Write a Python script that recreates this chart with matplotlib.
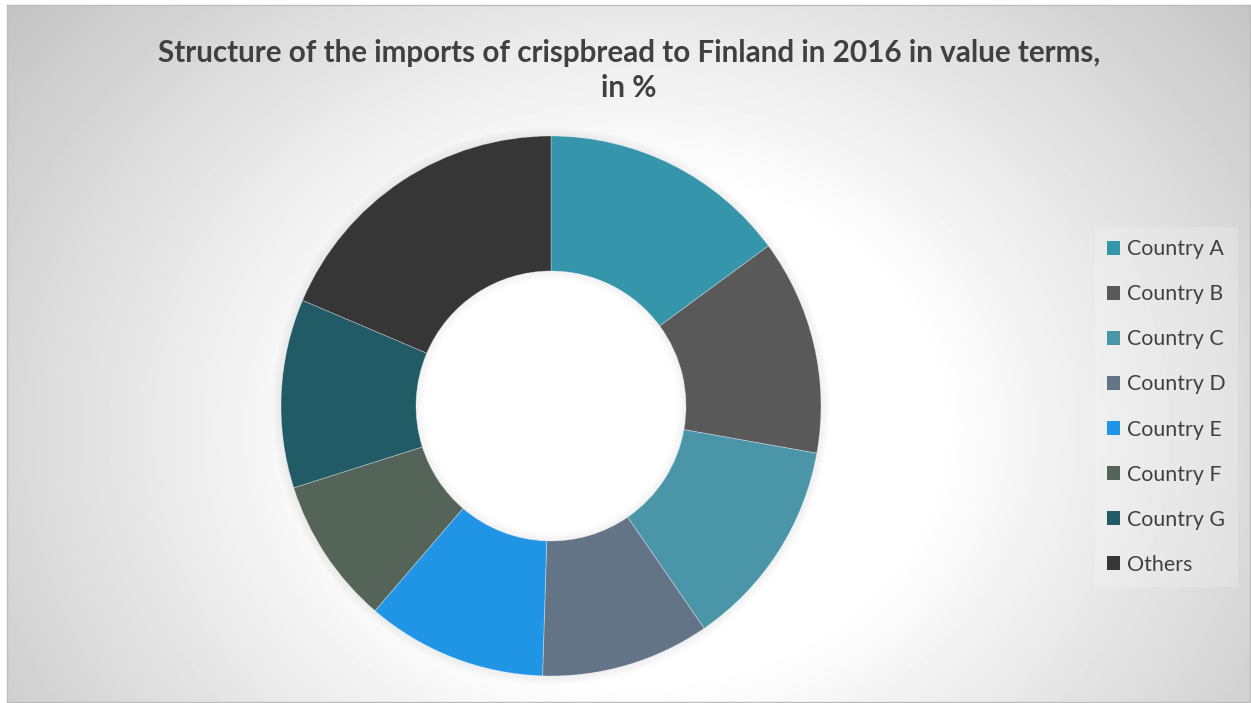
import numpy as np
import matplotlib
matplotlib.use("Agg")
import matplotlib.pyplot as plt
from matplotlib.patches import Patch, Wedge

labels = ["Country A", "Country B", "Country C", "Country D",
          "Country E", "Country F", "Country G", "Others"]
shares = [14.9, 12.9, 12.6, 10.1, 10.8, 8.8, 11.3, 18.6]
colors = ["#3595aa", "#595959", "#4a96a8", "#637487",
          "#2095e6", "#546459", "#215b66", "#363636"]

title1 = "Structure of the imports of crispbread to Finland in 2016 in value terms,"
title2 = "in %"

W, H = 1251, 703
fig = plt.figure(figsize=(W / 100, H / 100), dpi=100)
fig.patch.set_facecolor("white")

# chart area with radial grey gradient
left, top, right, bottom = 7, 5, 1250, 702
bg = fig.add_axes([left / W, (H - bottom) / H, (right - left) / W, (bottom - top) / H])
xs = np.arange(left, right) + 0.5
ys = np.arange(top, bottom) + 0.5
X, Y = np.meshgrid(xs, ys)
d = np.sqrt(((X - 640) / 1.2) ** 2 + (Y - 430) ** 2)
v = np.clip(1 - 0.00055 * np.clip(d - 250, 0, None), 0.74, 1)
bg.imshow(v, cmap="gray", vmin=0, vmax=1, aspect="auto",
          extent=[left, right, bottom, top], interpolation="bilinear")
bg.set_xticks([])
bg.set_yticks([])
for s in bg.spines.values():
    s.set_color("#bdbdbd")
    s.set_linewidth(1)

# donut
cx, cy, R = 551, 406, 270
lim = 1.1
size = 2 * R * lim
ax = fig.add_axes([(cx - size / 2) / W, (H - cy - size / 2) / H, size / W, size / H])
ax.patch.set_alpha(0)

# soft shadow around the ring
for i in range(8):
    ax.add_patch(Wedge((0, 0), 1.0 + 0.004 * (i + 1), 0, 360, width=0.004,
                       facecolor="black", alpha=0.06 * (1 - i / 8), lw=0, zorder=0))

ax.pie(shares, colors=colors, startangle=90, counterclock=False, radius=1,
       wedgeprops=dict(width=0.5, edgecolor=(1, 1, 1, 0.35), linewidth=0.6))

# inner shading of the hole
for i in range(8):
    ax.add_patch(Wedge((0, 0), 0.5 - 0.004 * i, 0, 360, width=0.004,
                       facecolor="black", alpha=0.05 * (1 - i / 8), lw=0, zorder=3))

ax.set_xlim(-lim, lim)
ax.set_ylim(-lim, lim)
ax.set_aspect("equal")
ax.axis("off")

# title
fig.text(629 / W, 1 - 53 / H, title1, ha="center", va="center", fontsize=21.3,
         fontweight="bold", family="Lato", color="#404040")
fig.text(629 / W, 1 - 88 / H, title2, ha="center", va="center", fontsize=21.3,
         fontweight="bold", family="Lato", color="#404040")

# legend
handles = [Patch(facecolor=c, label=l) for c, l in zip(colors, labels)]
leg = fig.legend(handles=handles, loc="upper left",
                 bbox_to_anchor=(1095 / W, 1 - 227 / H), borderaxespad=0,
                 frameon=True, facecolor="white", framealpha=0.2,
                 edgecolor="none", fancybox=False,
                 prop={"family": "Lato", "size": 15.4}, labelcolor="#404040",
                 handlelength=0.6, handleheight=0.6, handletextpad=0.33,
                 labelspacing=1.17, borderpad=0.58)

fig.savefig("out.png", dpi=100)
